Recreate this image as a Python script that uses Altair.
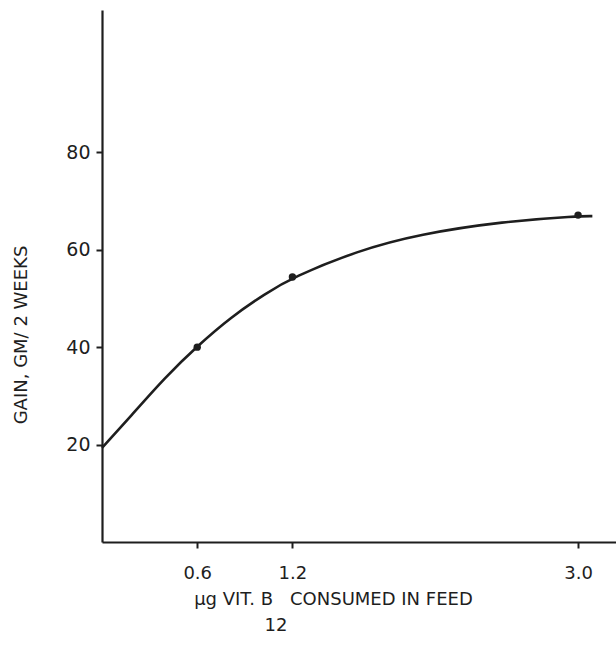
import altair as alt
import pandas as pd

# Fitted curve
curve_x = [0.0, 0.18, 0.40, 0.6, 0.81, 1.03, 1.2, 1.61, 2.0, 2.53, 3.0, 3.09]
curve_y = [19.3, 25.8, 33.9, 40.2, 46.1, 51.0, 54.3, 59.8, 63.2, 65.8, 66.9, 66.9]

# Observed points
pt_x = [0.6, 1.2, 3.0]
pt_y = [40.0, 54.4, 67.1]

x_ticks = [0.6, 1.2, 3.0]
y_ticks = [20, 40, 60, 80]

INK = "#1e1e1e"
FONT = "DejaVu Sans"

curve = pd.DataFrame({"x": curve_x, "y": curve_y})
pts = pd.DataFrame({"x": pt_x, "y": pt_y})

xs = alt.Scale(domain=[0, 3.239], nice=False, zero=False)
ys = alt.Scale(domain=[0, 109.2], nice=False, zero=False)

xaxis = alt.Axis(values=x_ticks, format=".1f", title=None, grid=False,
                 domainColor=INK, domainWidth=2.2, tickColor=INK, tickWidth=2,
                 tickSize=6, labelFont=FONT, labelFontSize=18, labelColor=INK,
                 labelPadding=16)
yaxis = alt.Axis(values=y_ticks, title=None, grid=False,
                 domainColor=INK, domainWidth=2.2, tickColor=INK, tickWidth=2,
                 tickSize=6, labelFont=FONT, labelFontSize=19, labelColor=INK,
                 labelPadding=6)

line = alt.Chart(curve).mark_line(color=INK, strokeWidth=2.6, interpolate="basis").encode(
    x=alt.X("x:Q", scale=xs, axis=xaxis),
    y=alt.Y("y:Q", scale=ys, axis=yaxis),
)
dots = alt.Chart(pts).mark_circle(color=INK, size=55, opacity=1).encode(
    x=alt.X("x:Q", scale=xs),
    y=alt.Y("y:Q", scale=ys),
)

def label(txt, x, y, align="left", angle=0, size=18):
    return alt.Chart(pd.DataFrame({"t": [txt]})).mark_text(
        font=FONT, fontSize=size, color=INK, align=align, baseline="middle", angle=angle
    ).encode(x=alt.value(x), y=alt.value(y), text="t:N")

ytitle = label("GAIN,  GM/ 2 WEEKS", -80, 325, align="center", angle=270, size=18)
xt1 = label("µg VIT. B", 171, 590, align="right", size=18)
xt2 = label("12", 174, 616, align="center", size=18)
xt3 = label("CONSUMED IN FEED", 188, 590, align="left", size=18)

chart = alt.layer(line, dots, ytitle, xt1, xt2, xt3).properties(
    width=514, height=532,
    padding={"left": 102, "top": 10, "right": 0, "bottom": 104},
    autosize=alt.AutoSizeParams(type="none"),
    background="white",
).configure_view(stroke=None)

chart.save("out.html", embed_options={"renderer": "svg", "actions": False})
